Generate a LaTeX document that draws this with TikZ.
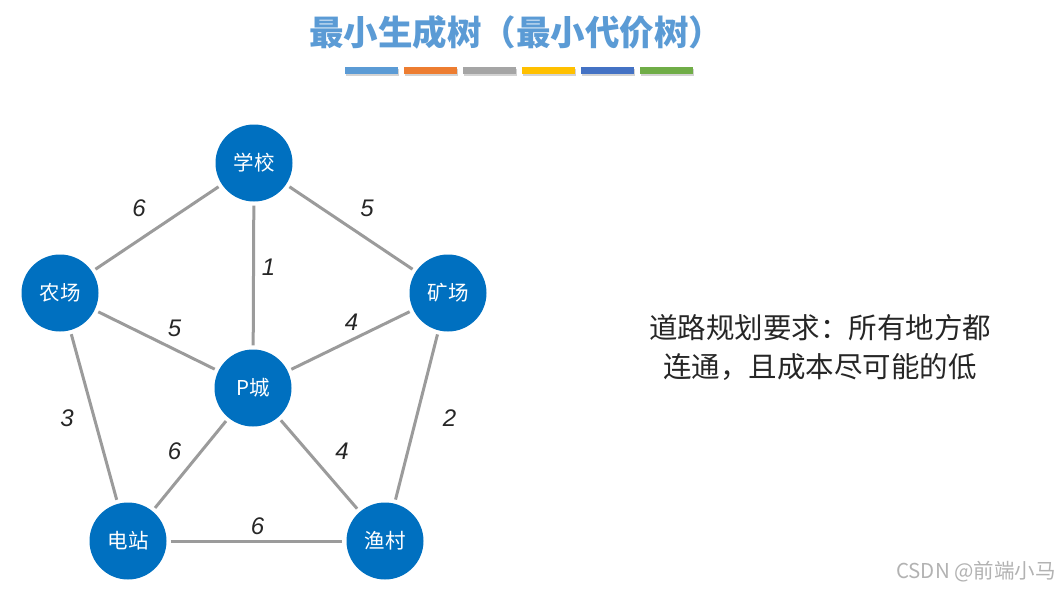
\documentclass[tikz,border=0pt]{standalone}
\usepackage{fontspec}
\setmainfont{Noto Sans CJK SC}
\newfontfamily\numfont{Liberation Sans}
\usetikzlibrary{shadows}
\definecolor{titleblue}{HTML}{5B9BD5}
\definecolor{cityblue}{HTML}{0070C0}
\definecolor{roadgray}{HTML}{9B9B9B}
\definecolor{barorange}{HTML}{ED7D31}
\definecolor{bargray}{HTML}{A5A5A5}
\definecolor{baryellow}{HTML}{FFC000}
\definecolor{barblue}{HTML}{4472C4}
\definecolor{bargreen}{HTML}{70AD47}
\begin{document}
\begin{tikzpicture}[
  x=1pt, y=-1pt,
  city/.style={circle,fill=cityblue,minimum size=77pt,inner sep=0pt,
    text=white,font=\fontsize{20.5}{24}\selectfont},
  road/.style={draw=roadgray,line width=3pt,shorten <=4pt,shorten >=4pt},
  cost/.style={font=\numfont\itshape\fontsize{24}{28}\selectfont,text=black!85},
  bar/.style={minimum width=53pt,minimum height=7pt,inner sep=0pt,
    drop shadow={shadow xshift=1pt,shadow yshift=-2pt,opacity=0.35}}
]
  \useasboundingbox (0,0) rectangle (1061,589);
  % title and colour bar
  \node[text=titleblue,font=\fontsize{34.5}{38}\selectfont\bfseries] (title) at (516,32)
    {最小生成树（最小代价树）};
  \foreach \c [count=\i] in {titleblue,barorange,bargray,baryellow,barblue,bargreen}
    \node[bar,fill=\c] (bar\i) at (371.5+59*\i-59,70.5) {};
  % cities
  \node[city] (school) at (254,163) {学校};
  \node[city] (farm)   at (60,293)  {农场};
  \node[city] (mine)   at (448,293) {矿场};
  \node[city] (pcity)  at (253,388) {P城};
  \node[city] (plant)  at (128,541) {电站};
  \node[city] (fish)   at (385,541) {渔村};
  % roads
  \draw[road] (school) -- node[cost,midway,xshift=-18pt,yshift=20pt] {6} (farm);
  \draw[road] (school) -- node[cost,midway,xshift=16pt,yshift=20pt] {5} (mine);
  \draw[road] (school) -- node[cost,midway,xshift=15pt,yshift=8pt] {1} (pcity);
  \draw[road] (farm) -- node[cost,midway,xshift=18pt,yshift=12pt] {5} (pcity);
  \draw[road] (mine) -- node[cost,midway,xshift=1pt,yshift=18pt] {4} (pcity);
  \draw[road] (farm) -- node[cost,midway,xshift=-27pt,yshift=-1pt] {3} (plant);
  \draw[road] (mine) -- node[cost,midway,xshift=33pt,yshift=-1pt] {2} (fish);
  \draw[road] (pcity) -- node[cost,midway,xshift=-16pt,yshift=13pt] {6} (plant);
  \draw[road] (pcity) -- node[cost,midway,xshift=23pt,yshift=13pt] {4} (fish);
  \draw[road] (plant) -- node[cost,midway,xshift=1pt,yshift=15pt] {6} (fish);
  % requirement text
  \node[align=center,font=\fontsize{28.5}{39}\selectfont,text=black!85] (goal) at (820,347)
    {道路规划要求：所有地方都\\连通，且成本尽可能的低};
  % watermark
  \node[text=black!30,font=\fontsize{20.5}{24}\selectfont] (mark) at (976,572)
    {CSDN @前端小马};
\end{tikzpicture}
\end{document}
